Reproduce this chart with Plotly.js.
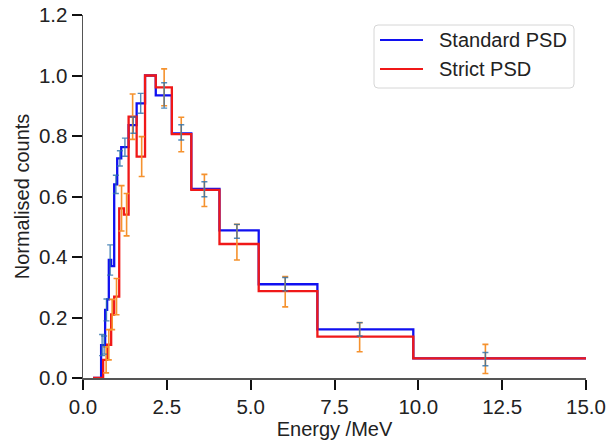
<!DOCTYPE html>
<html>
<head>
<meta charset="utf-8">
<script src="https://cdn.plot.ly/plotly-3.0.1.min.js"></script>
<style>html,body{margin:0;padding:0;background:#fff;}#chart{width:608px;height:440px;}</style>
</head>
<body>
<div id="chart"></div>
<script>
// Bin edges (MeV), shared by both histograms
const binEdges = [0.30, 0.54, 0.60, 0.66, 0.72, 0.77, 0.84, 0.93, 1.02, 1.08, 1.14, 1.22, 1.36, 1.60, 1.85, 2.17, 2.65, 3.23, 4.07, 5.24, 6.99, 9.85, 15.0];
// Normalised counts per bin
const standardCounts = [0, 0.109, 0.109, 0.225, 0.26, 0.39, 0.37, 0.64, 0.726, 0.726, 0.763, 0.763, 0.836, 0.908, 1.0, 0.934, 0.809, 0.625, 0.488, 0.310, 0.161, 0.065];
const strictCounts   = [0, 0, 0.06, 0.06, 0.11, 0.11, 0.21, 0.269, 0.269, 0.561, 0.561, 0.54, 0.864, 0.732, 1.0, 0.961, 0.806, 0.622, 0.443, 0.287, 0.137, 0.065];

// Error bars
const standardErrX = [0.57, 0.63, 0.70, 0.81, 0.98, 1.10, 1.25, 1.50, 1.72, 2.42, 2.93, 3.62, 4.59, 6.03, 8.25, 12.0];
const standardErrY = [0.109, 0.109, 0.225, 0.39, 0.64, 0.726, 0.763, 0.836, 0.908, 0.934, 0.812, 0.624, 0.485, 0.31, 0.161, 0.0625];
const standardErr  = [0.035, 0.03, 0.036, 0.05, 0.03, 0.025, 0.03, 0.027, 0.033, 0.042, 0.025, 0.025, 0.023, 0.022, 0.022, 0.022];

const strictErrX = [0.69, 0.77, 0.87, 1.00, 1.15, 1.30, 1.48, 1.75, 2.42, 2.93, 3.62, 4.59, 6.03, 8.25, 12.0];
const strictErrY = [0.06, 0.11, 0.21, 0.269, 0.561, 0.54, 0.864, 0.732, 0.961, 0.805, 0.62, 0.449, 0.285, 0.135, 0.063];
const strictErr  = [0.043, 0.05, 0.05, 0.06, 0.075, 0.07, 0.075, 0.066, 0.061, 0.057, 0.053, 0.059, 0.05, 0.048, 0.048];

const seriesNames = ["Standard PSD", "Strict PSD"];
const seriesColors = ["#1010f0", "#f01818"];
const xTicks = [0, 2.5, 5, 7.5, 10, 12.5, 15];
const yTicks = [0, 0.2, 0.4, 0.6, 0.8, 1.0, 1.2];

function stepY(vals) { return vals.concat([vals[vals.length - 1]]); }

const FONT = "Liberation Sans, Arial, sans-serif";
const W = 608, H = 440, M = {l: 83, r: 22, t: 15, b: 62};
// pixel -> paper helpers (for the legend box only)
const pw = W - M.l - M.r, ph = H - M.t - M.b;
const px = v => (v - M.l) / pw;
const py = v => (H - M.b - v) / ph;

const traces = [
  {x: binEdges, y: stepY(standardCounts), type: "scatter", mode: "lines", line: {shape: "hv", color: seriesColors[0], width: 2.3}, name: seriesNames[0], showlegend: false, hoverinfo: "skip"},
  {x: binEdges, y: stepY(strictCounts), type: "scatter", mode: "lines", line: {shape: "hv", color: seriesColors[1], width: 2.3}, name: seriesNames[1], showlegend: false, hoverinfo: "skip"},
  {x: strictErrX, y: strictErrY, type: "scatter", mode: "markers", marker: {size: 1, opacity: 0}, showlegend: false,
   error_y: {type: "data", array: strictErr, visible: true, color: "#f5922e", thickness: 1.6, width: 3}},
  {x: standardErrX, y: standardErrY, type: "scatter", mode: "markers", marker: {size: 1, opacity: 0}, showlegend: false,
   error_y: {type: "data", array: standardErr, visible: true, color: "rgba(40,110,170,0.8)", thickness: 1.4, width: 3}}
];

// Legend box (rounded rectangle)
const bx0 = 374, bx1 = 574, by0 = 25, by1 = 88, r = 4;
const rx = r / pw, ry = r / ph;
const X0 = px(bx0), X1 = px(bx1), Y0 = py(by0), Y1 = py(by1);
const boxPath = `M${X0 + rx},${Y0} L${X1 - rx},${Y0} Q${X1},${Y0} ${X1},${Y0 - ry} L${X1},${Y1 + ry} Q${X1},${Y1} ${X1 - rx},${Y1} L${X0 + rx},${Y1} Q${X0},${Y1} ${X0},${Y1 + ry} L${X0},${Y0 - ry} Q${X0},${Y0} ${X0 + rx},${Y0} Z`;
const rowsY = [40, 69];

const shapes = [
  {type: "path", xref: "paper", yref: "paper", path: boxPath, line: {color: "#d6d6d6", width: 1}, fillcolor: "#fff", layer: "above"}
];
const annotations = [];
seriesNames.forEach((name, i) => {
  shapes.push({type: "line", xref: "paper", yref: "paper", x0: px(380), x1: px(423), y0: py(rowsY[i]), y1: py(rowsY[i]),
               line: {color: seriesColors[i], width: 2}, layer: "above"});
  annotations.push({xref: "paper", yref: "paper", x: px(437), y: py(rowsY[i]), xanchor: "left", yanchor: "middle",
                    text: name, showarrow: false, font: {family: FONT, size: 20, color: "#222"}});
});

const layout = {
  width: W, height: H,
  margin: M,
  paper_bgcolor: "#fff", plot_bgcolor: "#fff",
  font: {family: FONT, color: "#222", size: 20},
  showlegend: false,
  shapes: shapes,
  annotations: annotations,
  xaxis: {range: [0, 15], tickvals: xTicks, tickformat: ".1f", showgrid: false, zeroline: false,
          showline: true, linecolor: "#555", linewidth: 1.5, ticks: "outside", ticklen: 10, tickwidth: 2, tickcolor: "#111",
          tickfont: {family: FONT, size: 20.5, color: "#222"},
          title: {text: "Energy /MeV", font: {family: FONT, size: 20, color: "#222"}, standoff: 4}},
  yaxis: {range: [0, 1.2], tickvals: yTicks, tickformat: ".1f", showgrid: false, zeroline: false,
          showline: true, linecolor: "#555", linewidth: 1.5, ticks: "outside", ticklen: 10, tickwidth: 2, tickcolor: "#111",
          tickfont: {family: FONT, size: 20.5, color: "#222"},
          title: {text: "Normalised counts", font: {family: FONT, size: 20, color: "#222"}, standoff: 4}}
};

Plotly.newPlot("chart", traces, layout, {staticPlot: true, displayModeBar: false});
</script>
</body>
</html>
